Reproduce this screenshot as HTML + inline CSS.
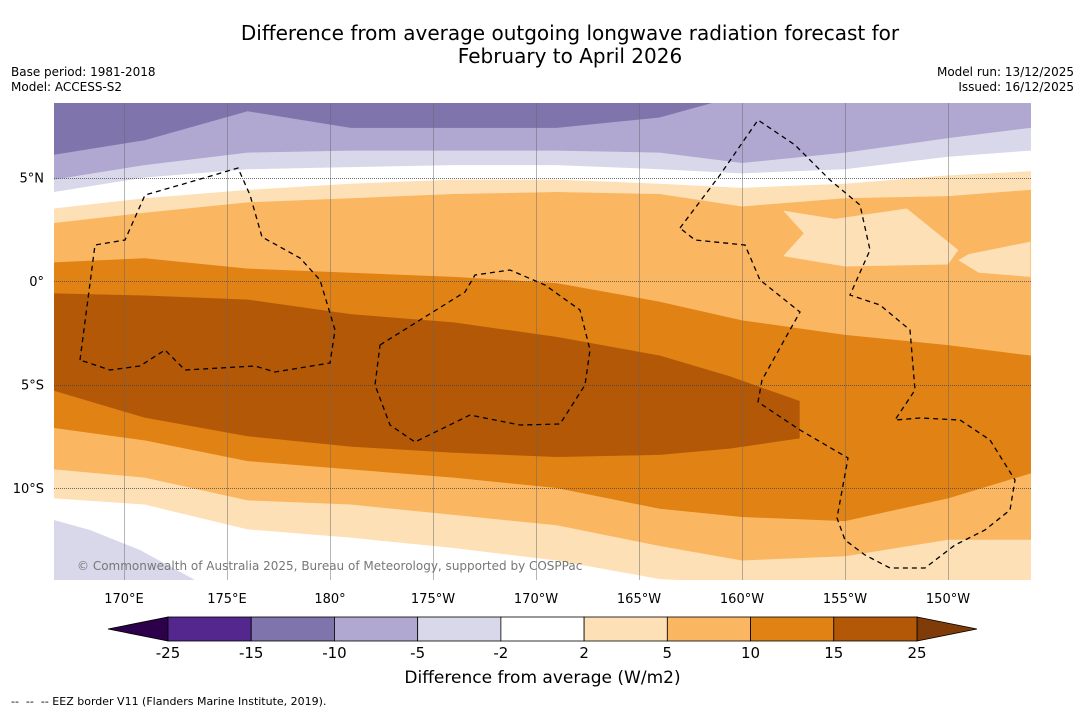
<!DOCTYPE html>
<html><head><meta charset="utf-8"><style>
body{margin:0;background:#fff;font-family:"DejaVu Sans",sans-serif;}
#wrap{position:relative;width:1085px;height:713px;overflow:hidden;background:#fff}
.t{position:absolute;white-space:nowrap;color:#000}
</style></head><body>
<div id="wrap">
<div class="t" style="left:0;width:1140px;text-align:center;top:22px;font-size:20px;line-height:23px">Difference from average outgoing longwave radiation forecast for<br>February to April 2026</div>
<div class="t" style="left:11px;top:65px;font-size:12px;line-height:15px">Base period: 1981-2018<br>Model: ACCESS-S2</div>
<div class="t" style="right:11px;top:65px;font-size:12px;line-height:15px;text-align:right">Model run: 13/12/2025<br>Issued: 16/12/2025</div>
<svg id="map" width="1085" height="713" style="position:absolute;left:0;top:0"></svg>
<div class="t" style="left:0;width:1085px;text-align:center;top:668px;font-size:17px">Difference from average (W/m2)</div>
<div class="t" style="left:11px;top:695px;font-size:11px">-- &nbsp;-- &nbsp;-- EEZ border V11 (Flanders Marine Institute, 2019).</div>
</div>
<script>
const lons=[166.6,171,176,181,186,191,196,200,205,210,214];
const curveA=[6.1,6.8,8.2,7.4,7.4,7.4,7.9,9,9,9,9];
const curveB=[4.9,5.6,6.2,6.3,6.3,6.3,6.2,5.7,6.2,6.9,7.4];
const curveC=[4.3,5.0,5.4,5.5,5.6,5.6,5.4,5.2,5.4,6.0,6.3];
const curveD=[3.5,4.0,4.4,4.7,4.9,4.9,4.7,4.5,4.7,5.1,5.3];
const curveE=[2.8,3.3,3.8,4.0,4.2,4.3,4.2,3.6,4.0,4.1,4.4];
const curveF=[0.9,1.1,0.6,0.4,0.2,-0.1,-1.0,-1.9,-2.6,-3.1,-3.6];
const curveI=[-7.1,-7.7,-8.7,-9.1,-9.5,-10.0,-11.0,-11.4,-11.6,-10.5,-9.3];
const curveJ=[-9.1,-9.5,-10.6,-10.8,-11.3,-11.8,-12.8,-13.5,-13.3,-12.5,-12.5];
const curveK=[-10.5,-10.8,-12.0,-12.4,-12.9,-13.5,-14.4,-14.6,-14.6,-14.6,-14.6];
const darkLons=[166.6,171,176,181,186,191,196,199.4,202.8];
const darkTop=[-0.6,-0.7,-0.9,-1.6,-2.0,-2.7,-3.6,-4.6,-5.8];
const darkBot=[-5.3,-6.6,-7.5,-8.0,-8.3,-8.5,-8.4,-8.1,-7.6];
const cbLabels=["-25","-15","-10","-5","-2","2","5","10","15","25"];
const cbColors=["#54278f","#7f74ab","#b0a8d0","#d8d8ea","#ffffff","#fde0b6","#fbb661","#e08214","#b35806"];
const lonTicks=[170,175,180,185,190,195,200,205,210];
const lonTickLabels=["170°E","175°E","180°","175°W","170°W","165°W","160°W","155°W","150°W"];
const latTicks=[5,0,-5,-10];
const latTickLabels=["5°N","0°","5°S","10°S"];

const X0=54,X1=1031,Y0=103,Y1=580;
const xs=lon=>124+(lon-170)*20.6;
const ys=lat=>281-lat*20.7;
const NS="http://www.w3.org/2000/svg";
const svg=document.getElementById('map');
function mk(tag,attrs,parent){const e=document.createElementNS(NS,tag);for(const k in attrs)e.setAttribute(k,attrs[k]);(parent||svg).appendChild(e);return e;}
const defs=mk('defs',{});
const cp=mk('clipPath',{id:'c'},defs);mk('rect',{x:X0,y:Y0,width:X1-X0,height:Y1-Y0},cp);
const g=mk('g',{'clip-path':'url(#c)'});


function below(curve,color,name){
  let d='M'+xs(lons[0])+','+Y1;
  curve.forEach((v,i)=>{d+=' L'+xs(lons[i])+','+ys(v);});
  d+=' L'+X1+','+ys(curve[curve.length-1])+' L'+X1+','+Y1+' Z';
  const p=mk('path',{d:d,fill:color},g);
  
  
}
const bg=mk('rect',{x:X0,y:Y0,width:X1-X0,height:Y1-Y0,fill:'#7f74ab'},g);


below(curveA,'#b0a8d0','band-minus10');
below(curveB,'#d8d8ea','band-minus5');
below(curveC,'#ffffff','band-neutral');
below(curveD,'#fde0b6','band-plus2');
below(curveE,'#fbb661','band-plus5');
const isl1=[[202,3.4],[204.5,3.0],[208,3.5],[210.5,1.5],[210,0.8],[205,0.7],[202,1.2],[203,2.3]];
const isl2=[[211,1.3],[214,1.9],[214,0.2],[211.5,0.4],[210.5,1.0]];
[isl1,isl2].forEach((pts,i)=>{const p=mk('polygon',{points:pts.map(q=>xs(q[0])+','+ys(q[1])).join(' '),fill:'#fde0b6'},g);

});
below(curveF,'#e08214','band-plus10');
let dd='M'+darkLons.map((l,i)=>xs(l)+','+ys(darkTop[i])).join(' L');
for(let i=darkLons.length-1;i>=0;i--)dd+=' L'+xs(darkLons[i])+','+ys(darkBot[i]);
const dk=mk('path',{d:dd+' Z',fill:'#b35806'},g);


below(curveI,'#fbb661','band-plus5-south');
below(curveJ,'#fde0b6','band-plus2-south');
below(curveK,'#ffffff','band-neutral-south');
const bl=mk('path',{d:'M54,520 L90,530 L140,550 L195,580 L54,580 Z',fill:'#d8d8ea'},g);


lonTicks.forEach(l=>{const x=Math.round(xs(l))+0.5;const ln=mk('line',{x1:x,x2:x,y1:Y0,y2:Y1,stroke:'#666','stroke-width':0.6,'stroke-opacity':0.8},g);

});
latTicks.forEach(l=>{const y=Math.round(ys(l))+0.5;const ln=mk('line',{x1:X0,x2:X1,y1:y,y2:y,stroke:'#444','stroke-width':0.7,'stroke-dasharray':'1,1'},g);

});
const eez=["M80,360 L95,245 L125,240 L145,195 L180,185 L238,168 L250,195 L262,237 L300,258 L320,280 L335,330 L330,363 L275,372 L255,366 L185,370 L165,350 L140,366 L110,370 Z",
"M380,345 L420,320 L465,292 L475,275 L510,270 L545,285 L580,310 L590,350 L585,385 L560,424 L520,425 L470,415 L415,442 L390,425 L375,385 Z",
"M680,228 L720,175 L758,120 L795,145 L830,180 L860,205 L870,250 L850,295 L880,305 L910,330 L915,390 L895,420 L920,418 L960,420 L990,440 L1015,480 L1010,510 L985,530 L955,545 L925,568 L890,568 L865,555 L845,540 L837,518 L848,458 L800,430 L758,402 L762,380 L800,312 L760,280 L745,245 L695,240 Z"];
eez.forEach(d=>{const p=mk('path',{d:d,fill:'none',stroke:'#000','stroke-width':1.3,'stroke-dasharray':'5,4'},g);

});
const cr=mk('text',{x:77,y:570,'font-size':12,fill:'#777','font-family':'DejaVu Sans'},g);
cr.textContent='© Commonwealth of Australia 2025, Bureau of Meteorology, supported by COSPPac';


lonTicks.forEach((l,i)=>{const t=mk('text',{x:xs(l),y:603,'font-size':13,'text-anchor':'middle','font-family':'DejaVu Sans'});t.textContent=lonTickLabels[i];

});
latTicks.forEach((l,i)=>{const t=mk('text',{x:44,y:ys(l)+5,'font-size':13,'text-anchor':'end','font-family':'DejaVu Sans'});t.textContent=latTickLabels[i];

});
const cbX=168,cbW=749/cbColors.length,cbY=617,cbH=24;
const la=mk('polygon',{points:`108,${cbY+cbH/2} ${cbX},${cbY} ${cbX},${cbY+cbH}`,fill:'#2d004b',stroke:'#000','stroke-width':0.8});


const ra=mk('polygon',{points:`977,${cbY+cbH/2} 917,${cbY} 917,${cbY+cbH}`,fill:'#7f3b08',stroke:'#000','stroke-width':0.8});


cbColors.forEach((c,i)=>{const r=mk('rect',{x:cbX+i*cbW,y:cbY,width:cbW,height:cbH,fill:c,stroke:'#000','stroke-width':0.8});

});
cbLabels.forEach((s,i)=>{const t=mk('text',{x:cbX+i*cbW,y:658,'font-size':15,'text-anchor':'middle','font-family':'DejaVu Sans'});t.textContent=s;

});
</script>
</body></html>
